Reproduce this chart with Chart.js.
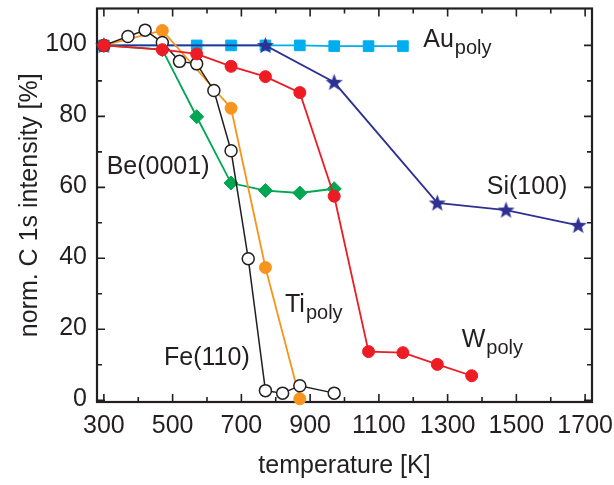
<!DOCTYPE html>
<html>
<head>
<meta charset="utf-8">
<script src="https://cdn.jsdelivr.net/npm/chart.js@4.4.1/dist/chart.umd.min.js"></script>
<style>
  html, body { margin: 0; padding: 0; background: #fff; }
  #wrap { width: 614px; height: 485px; }
</style>
</head>
<body>
<div id="wrap"><canvas id="c" width="614" height="485"></canvas></div>
<script>
// temperature [K] vs normalised C 1s intensity [%], one pair of arrays per surface
const auT = [300, 570, 670, 770, 870, 970, 1070, 1170];
const auI = [100, 100, 100, 100, 100, 99.8, 99.8, 99.8];

const siT = [300, 770, 970, 1270, 1470, 1680];
const siI = [100, 100, 89.6, 55.6, 53.6, 49.3];

const beT = [300, 470, 570, 670, 770, 870, 970];
const beI = [100, 98.8, 79.9, 61.2, 59.1, 58.4, 59.6];

const tiT = [300, 470, 670, 770, 870];
const tiI = [100, 104.2, 82.3, 37.4, 0.4];

const feT = [300, 370, 420, 470, 520, 570, 620, 670, 720, 770, 820, 870, 970];
const feI = [100, 102.5, 104.3, 100.8, 95.5, 94.8, 87.3, 70.3, 39.9, 2.7, 2.0, 4.1, 2.0];

const wT = [300, 470, 570, 670, 770, 870, 970, 1070, 1170, 1270, 1370];
const wI = [100, 98.8, 97.6, 94.1, 91.2, 86.7, 57.5, 13.7, 13.4, 10.1, 6.9];

// axis ticks
const xMajor = [300, 500, 700, 900, 1100, 1300, 1500, 1700];
const xMinor = [400, 600, 800, 1000, 1200, 1400, 1600];
const yMajor = [0, 20, 40, 60, 80, 100];
const yMinor = [10, 30, 50, 70, 90];

// curve labels: text, subscript, anchor in data units
const labels = [
  { text: 'Au', sub: 'poly', x: 1229, y: 99.5 },
  { text: 'Si(100)', sub: '', x: 1414, y: 58.1 },
  { text: 'Be(0001)', sub: '', x: 308, y: 63.8 },
  { text: 'Ti', sub: 'poly', x: 827, y: 24.9 },
  { text: 'W', sub: 'poly', x: 1341, y: 14.9 },
  { text: 'Fe(110)', sub: '', x: 475, y: 9.9 }
];

const ink = '#231f20';
const FONT = '"Liberation Sans", Arial, Helvetica, sans-serif';

function pts(xs, ys) {
  return xs.map((x, i) => ({ x: x, y: ys[i] }));
}

// filled five-point star used for Si(100)
function makeStar(color) {
  const cv = document.createElement('canvas');
  cv.width = 19; cv.height = 19;
  const g = cv.getContext('2d');
  g.fillStyle = color;
  g.beginPath();
  for (let i = 0; i < 10; i++) {
    const r = i % 2 === 0 ? 9 : 3.8;
    const a = -Math.PI / 2 + i * Math.PI / 5;
    const px = 9.5 + r * Math.cos(a), py = 10 + r * Math.sin(a);
    if (i === 0) g.moveTo(px, py); else g.lineTo(px, py);
  }
  g.closePath();
  g.fill();
  return cv;
}

// box, inward ticks, tick labels and axis titles, all placed through the scales
const frame = {
  id: 'frame',
  beforeDatasetsDraw(chart) {
    const ctx = chart.ctx;
    const xs = chart.scales.x, ys = chart.scales.y;
    const L = xs.getPixelForValue(xs.min), R = xs.getPixelForValue(xs.max);
    const T = ys.getPixelForValue(ys.max), B = ys.getPixelForValue(ys.min);
    ctx.save();
    ctx.strokeStyle = ink;
    ctx.lineWidth = 1.6;
    const tick = (v, len, horiz) => {
      ctx.beginPath();
      if (horiz) {
        const p = xs.getPixelForValue(v);
        ctx.moveTo(p, B); ctx.lineTo(p, B - len);
        ctx.moveTo(p, T); ctx.lineTo(p, T + len);
      } else {
        const p = ys.getPixelForValue(v);
        ctx.moveTo(L, p); ctx.lineTo(L + len, p);
        ctx.moveTo(R, p); ctx.lineTo(R - len, p);
      }
      ctx.stroke();
    };
    xMajor.forEach(v => tick(v, 8, true));
    xMinor.forEach(v => tick(v, 5, true));
    yMajor.forEach(v => tick(v, 8, false));
    yMinor.forEach(v => tick(v, 5, false));
    ctx.lineWidth = 2.2;
    ctx.strokeRect(L, T, R - L, B - T);

    ctx.fillStyle = ink;
    ctx.font = '25px ' + FONT;
    ctx.textBaseline = 'middle';
    ctx.textAlign = 'center';
    xMajor.forEach(v => ctx.fillText(String(v), xs.getPixelForValue(v), B + 24));
    ctx.textAlign = 'right';
    yMajor.forEach(v => ctx.fillText(String(v), L - 10, ys.getPixelForValue(v) - 1));

    ctx.textAlign = 'center';
    ctx.fillText('temperature [K]', (L + R) / 2, 466);
    ctx.translate(30, (T + B) / 2);
    ctx.rotate(-Math.PI / 2);
    ctx.fillText('norm. C 1s intensity [%]', 0, 0);
    ctx.restore();
  },
  afterDatasetsDraw(chart) {
    const ctx = chart.ctx;
    const xs = chart.scales.x, ys = chart.scales.y;
    ctx.save();
    ctx.fillStyle = ink;
    ctx.textAlign = 'left';
    ctx.textBaseline = 'alphabetic';
    labels.forEach(l => {
      const px = xs.getPixelForValue(l.x), py = ys.getPixelForValue(l.y);
      ctx.font = '25px ' + FONT;
      ctx.fillText(l.text, px, py);
      if (l.sub) {
        const w = ctx.measureText(l.text).width;
        ctx.font = '20px ' + FONT;
        ctx.fillText(l.sub, px + w + 1, py + 7);
      }
    });
    ctx.restore();
  }
};

const line = (data, color, extra) => Object.assign({
  data: data,
  borderColor: color,
  backgroundColor: color,
  pointBackgroundColor: color,
  pointBorderColor: color,
  borderWidth: 1.8,
  pointRadius: 6,
  pointBorderWidth: 1,
  tension: 0,
  clip: false
}, extra);

new Chart(document.getElementById('c'), {
  type: 'line',
  data: {
    datasets: [
      line(pts(wT, wI), '#ed1c24', { order: 1 }),
      line(pts(feT, feI), '#231f20', { order: 2, pointBackgroundColor: '#ffffff', pointBorderWidth: 1.5, borderWidth: 1.5 }),
      line(pts(tiT, tiI), '#f7941d', { order: 3 }),
      line(pts(beT, beI), '#00a651', { order: 4, pointStyle: 'rectRot', pointRadius: 7 }),
      line(pts(siT, siI), '#2e3192', { order: 5, pointStyle: makeStar('#2e3192') }),
      line(pts(auT, auI), '#00aeef', { order: 6, pointStyle: 'rect', pointRadius: 7.5 })
    ]
  },
  plugins: [frame],
  options: {
    responsive: false,
    animation: false,
    layout: { padding: { top: 6, right: 22, left: 0, bottom: 0 } },
    plugins: { legend: { display: false }, tooltip: { enabled: false } },
    scales: {
      x: {
        type: 'linear',
        min: 280, max: 1720,
        grid: { display: false, drawTicks: false },
        border: { display: false },
        ticks: { display: false },
        afterFit: s => { s.height = 83; }
      },
      y: {
        type: 'linear',
        min: -0.5, max: 110.4,
        grid: { display: false, drawTicks: false },
        border: { display: false },
        ticks: { display: false },
        afterFit: s => { s.width = 97; }
      }
    }
  }
});
</script>
</body>
</html>
